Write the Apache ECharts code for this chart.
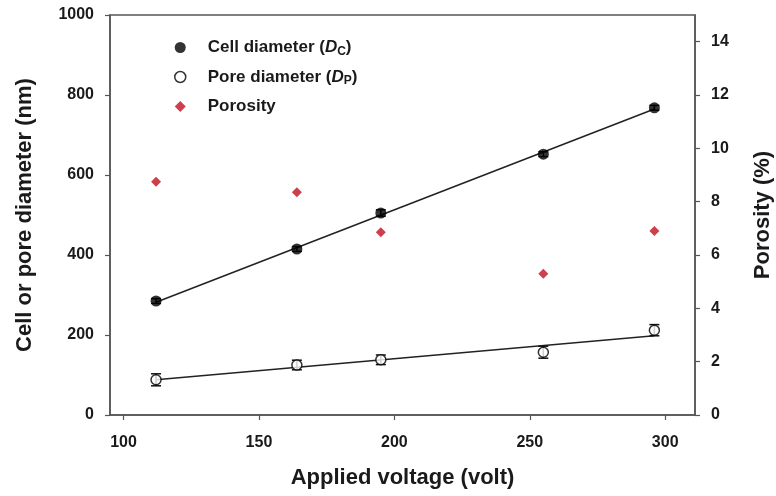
<!DOCTYPE html>
<html>
<head>
<meta charset="utf-8">
<script src="https://cdn.jsdelivr.net/npm/echarts@6/dist/echarts.min.js"></script>
<style>
 html, body { margin: 0; padding: 0; background: #fff; }
 #main { width: 776px; height: 496px; }
</style>
</head>
<body>
<div id="main"></div>
<script>
// applied voltage (volt)
var voltage = [112, 164, 195, 255, 296];
// cell diameter (nm) and its error
var cellDiam = [285, 415, 505, 652, 768];
var cellErr = [6, 6, 8, 6, 6];
// pore diameter (nm) and its error
var poreDiam = [88, 125, 138, 157, 212];
var poreErr = [15, 12, 12, 15, 14];
// porosity (%)
var porosity = [8.75, 8.35, 6.85, 5.3, 6.9];
// linear fits, end points
var cellFitX = [112, 296];
var cellFitY = [282, 765];
var poreFitX = [112, 296];
var poreFitY = [88, 198];

var xTicks = [100, 150, 200, 250, 300];
var rightTicks = [0, 2, 4, 6, 8, 10, 12, 14];

var font = '"Liberation Sans", Arial, sans-serif';
var axisColor = '#555';
var textColor = '#1a1a1a';

function pairs(xs, ys) {
 return xs.map(function (x, i) { return [x, ys[i]]; });
}

function errRender(params, api) {
 var x = api.value(0);
 var lo = api.coord([x, api.value(1)]);
 var hi = api.coord([x, api.value(2)]);
 var w = 5;
 var style = { stroke: '#111', lineWidth: 1.5, fill: null };
 return {
  type: 'group',
  children: [
   { type: 'line', shape: { x1: lo[0], y1: lo[1], x2: hi[0], y2: hi[1] }, style: style },
   { type: 'line', shape: { x1: lo[0] - w, y1: lo[1], x2: lo[0] + w, y2: lo[1] }, style: style },
   { type: 'line', shape: { x1: hi[0] - w, y1: hi[1], x2: hi[0] + w, y2: hi[1] }, style: style }
  ]
 };
}

function errData(ys, es) {
 return voltage.map(function (x, i) { return [x, ys[i] - es[i], ys[i] + es[i]]; });
}

var myChart = echarts.init(document.getElementById('main'));

var axisLine = { show: true, lineStyle: { color: axisColor, width: 1.5 } };
var axisTick = { show: true, length: 5, lineStyle: { color: axisColor, width: 1.2 } };
var axisLabel = {
 color: textColor, fontSize: 16, fontWeight: 'bold', fontFamily: font,
 formatter: function (v) { return String(v); }
};
var nameStyle = { color: textColor, fontSize: 22, fontWeight: 'bold', fontFamily: font };

option = {
 backgroundColor: '#fff',
 animation: false,
 grid: {
  left: 110, right: 81, top: 15, bottom: 81,
  outerBoundsMode: 'none',
  show: true, borderColor: axisColor, borderWidth: 1.5, backgroundColor: 'transparent'
 },
 legend: {
  orient: 'vertical',
  left: 169,
  top: 33,
  itemWidth: 11,
  itemHeight: 11,
  itemGap: 10,
  data: [
   { name: 'Cell diameter', icon: 'circle' },
   { name: 'Pore diameter', icon: 'circle',
     itemStyle: { color: '#fff', borderColor: '#000', borderWidth: 1.5 } },
   { name: 'Porosity', icon: 'diamond' }
  ],
  formatter: function (name) {
   if (name === 'Cell diameter') return 'Cell diameter ({i|D}{s|C})';
   if (name === 'Pore diameter') return 'Pore diameter ({i|D}{s|P})';
   return name;
  },
  textStyle: {
   color: textColor, fontSize: 17, fontWeight: 'bold', fontFamily: font,
   padding: [0, 0, 0, 17], lineHeight: 19,
   rich: {
    i: { fontStyle: 'italic', fontSize: 17, fontWeight: 'bold', fontFamily: font, color: textColor },
    s: { fontSize: 12, fontWeight: 'bold', fontFamily: font, color: textColor, padding: [8, 0, 0, 0] }
   }
  }
 },
 xAxis: {
  type: 'value',
  min: 95,
  max: 311,
  name: 'Applied voltage (volt)',
  nameLocation: 'middle',
  nameGap: 52,
  nameTextStyle: nameStyle,
  axisLine: axisLine,
  axisTick: Object.assign({ customValues: xTicks }, axisTick),
  axisLabel: Object.assign({ customValues: xTicks, margin: 20 }, axisLabel),
  splitLine: { show: false }
 },
 yAxis: [{
  type: 'value',
  min: 0,
  max: 1000,
  interval: 200,
  name: 'Cell or pore diameter (nm)',
  nameLocation: 'middle',
  nameGap: 74,
  nameRotate: 90,
  nameTextStyle: nameStyle,
  axisLine: axisLine,
  axisTick: axisTick,
  axisLabel: Object.assign({ margin: 16 }, axisLabel),
  splitLine: { show: false }
 }, {
  type: 'value',
  min: 0,
  max: 15,
  position: 'right',
  name: 'Porosity (%)',
  nameLocation: 'middle',
  nameGap: 57,
  nameRotate: 90,
  nameTextStyle: nameStyle,
  axisLine: axisLine,
  axisTick: Object.assign({ customValues: rightTicks }, axisTick),
  axisLabel: Object.assign({ customValues: rightTicks, margin: 16 }, axisLabel),
  splitLine: { show: false }
 }],
 series: [
  {
   name: 'cell fit', type: 'line', data: pairs(cellFitX, cellFitY),
   showSymbol: false, symbol: 'none', lineStyle: { color: '#222', width: 1.5 }, z: 1
  },
  {
   name: 'pore fit', type: 'line', data: pairs(poreFitX, poreFitY),
   showSymbol: false, symbol: 'none', lineStyle: { color: '#222', width: 1.5 }, z: 1
  },
  {
   name: 'cell err', type: 'custom', renderItem: errRender, data: errData(cellDiam, cellErr), z: 2
  },
  {
   name: 'pore err', type: 'custom', renderItem: errRender, data: errData(poreDiam, poreErr), z: 2
  },
  {
   name: 'Cell diameter', type: 'scatter', data: pairs(voltage, cellDiam),
   symbol: 'circle', symbolSize: 11, itemStyle: { color: '#000' }, z: 3
  },
  {
   name: 'Pore diameter', type: 'scatter', data: pairs(voltage, poreDiam),
   symbol: 'circle', symbolSize: 10,
   itemStyle: { color: '#fff', borderColor: '#000', borderWidth: 1.5 }, z: 3
  },
  {
   name: 'Porosity', type: 'scatter', yAxisIndex: 1, data: pairs(voltage, porosity),
   symbol: 'diamond', symbolSize: 10, itemStyle: { color: '#c0101e' }, z: 3
  }
 ]
};

myChart.setOption(option);
</script>
</body>
</html>
